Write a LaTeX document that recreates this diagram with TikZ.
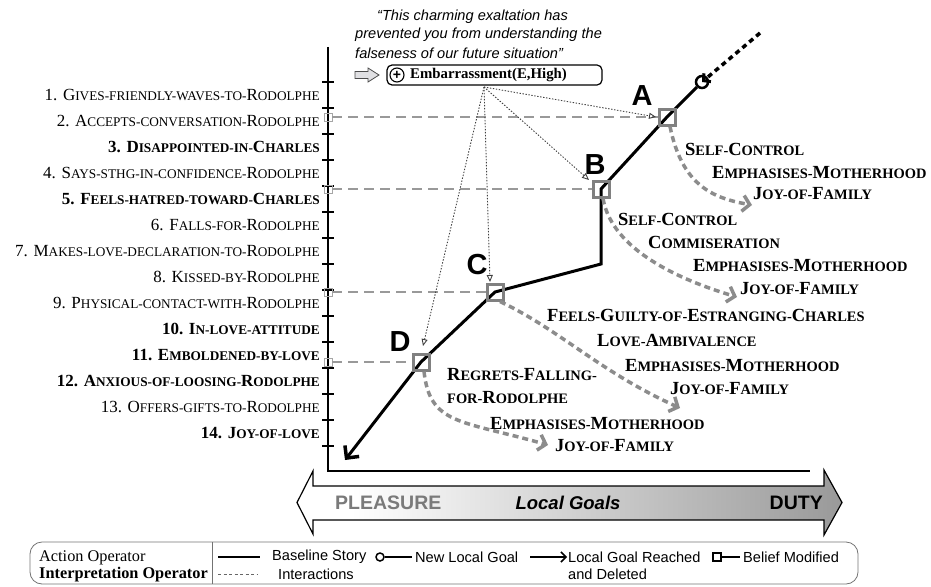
\documentclass[tikz,border=0pt]{standalone}
\usepackage{fontspec}
\setmainfont{Liberation Serif}
\newfontfamily\arial{Liberation Sans}
\usetikzlibrary{arrows.meta,shapes.geometric}
\makeatletter
\newcommand\smc[1]{{\fontsize{\the\dimexpr0.78\dimexpr\f@size pt\relax\relax}{10pt}\selectfont\MakeUppercase{#1}}}
\makeatother
\newcommand\fsAx{\fontsize{17}{20}\selectfont}
\newcommand\fsIn{\fontsize{18.5}{22}\selectfont}
\pgfdeclarehorizontalshading{goalshade}{100bp}{color(0bp)=(white); color(30bp)=(white); color(100bp)=(black!62)}
\begin{document}
\begin{tikzpicture}[x=1pt,y=-1pt,
  axl/.style={anchor=base east,inner sep=0pt,font=\fsAx},
  il/.style={anchor=base west,inner sep=0pt,font=\fsIn\bfseries},
  bigl/.style={inner sep=0pt,font=\arial\bfseries\fontsize{29}{32}\selectfont},
  sq/.style={draw=black!50,line width=3pt,minimum size=16pt,inner sep=0pt},
  ssq/.style={draw=black!35,line width=0.7pt,minimum size=8pt,inner sep=0pt},
  story/.style={line width=3pt,black},
  inter/.style={draw=black!45,line width=3.5pt,dash pattern=on 6pt off 4pt,-{Straight Barb[length=7pt,width=16pt,line width=3.5pt]}},
  dotar/.style={draw=black!75,line width=0.9pt,dash pattern=on 1.4pt off 1.6pt,-{Triangle[open,length=7pt,width=6pt]}},
  hdash/.style={draw=black!40,line width=1.3pt,dash pattern=on 10pt off 6pt},
  legt/.style={inner sep=0pt,anchor=west,font=\arial\fontsize{14.6}{17}\selectfont},
  tick/.style={line width=2pt}]
\useasboundingbox (0,0) rectangle (931,586);

% axes
\draw[line width=2.5pt] (328,47) -- (328,471) -- (810,471);
\foreach \i in {0,...,14} \draw[tick] (322,82+26*\i) -- (334,82+26*\i);

% axis labels
\node[axl] (l1) at (320,100.6) {1. G\smc{ives-friendly-waves-to-}R\smc{odolphe}};
\node[axl] (l2) at (320,126.6) {2. A\smc{ccepts-conversation-}R\smc{odolphe}};
\node[axl,font=\fsAx\bfseries] (l3) at (320,152.6) {3. D\smc{isappointed-in-}C\smc{harles}};
\node[axl] (l4) at (320,178.6) {4. S\smc{ays-sthg-in-confidence-}R\smc{odolphe}};
\node[axl,font=\fsAx\bfseries] (l5) at (320,204.6) {5. F\smc{eels-hatred-toward-}C\smc{harles}};
\node[axl] (l6) at (320,230.6) {6. F\smc{alls-for-}R\smc{odolphe}};
\node[axl] (l7) at (320,256.6) {7. M\smc{akes-love-declaration-to-}R\smc{odolphe}};
\node[axl] (l8) at (320,282.6) {8. K\smc{issed-by-}R\smc{odolphe}};
\node[axl] (l9) at (320,308.6) {9. P\smc{hysical-contact-with-}R\smc{odolphe}};
\node[axl,font=\fsAx\bfseries] (l10) at (320,334.6) {10. I\smc{n-love-attitude}};
\node[axl,font=\fsAx\bfseries] (l11) at (320,360.6) {11. E\smc{mboldened-by-love}};
\node[axl,font=\fsAx\bfseries] (l12) at (320,386.6) {12. A\smc{nxious-of-loosing-}R\smc{odolphe}};
\node[axl] (l13) at (320,412.6) {13. O\smc{ffers-gifts-to-}R\smc{odolphe}};
\node[axl,font=\fsAx\bfseries] (l14) at (320,438.6) {14. J\smc{oy-of-love}};

% quote and emotion box
\node[anchor=west,inner sep=0pt,font=\arial\itshape\fontsize{14.6}{17}\selectfont] (q1) at (377,17) {“This charming exaltation has};
\node[anchor=west,inner sep=0pt,font=\arial\itshape\fontsize{14.6}{17}\selectfont] (q2) at (355,35) {prevented you from understanding the};
\node[anchor=west,inner sep=0pt,font=\arial\itshape\fontsize{14.6}{17}\selectfont] (q3) at (355,53) {falseness of our future situation”};
\node[draw,line width=1.2pt,rounded corners=5pt,minimum width=215pt,minimum height=20pt,inner sep=0pt] (emb) at (494.5,75) {};
\node[circle,draw,line width=1.1pt,minimum size=14pt,inner sep=0pt,font=\arial\bfseries\fontsize{14}{14}\selectfont] (plus) at (397,75) {+};
\node[anchor=west,inner sep=0pt,font=\bfseries\fontsize{14.8}{17}\selectfont] (embt) at (410,75) {Embarrassment(E,High)};
\filldraw[fill=blue!8!black!12,draw=black!70,line width=0.8pt] (355,71.5) -- (368,71.5) -- (368,68) -- (379,75) -- (368,82) -- (368,78.5) -- (355,78.5) -- cycle;

% story line
\coordinate (start) at (760,33);
\node[circle,draw,line width=2.5pt,minimum size=12pt,inner sep=0pt] (goal) at (702,82) {};
\node[sq] (A) at (667,117) {};
\node[sq] (B) at (601,189) {};
\coordinate (bv) at (601,264);
\node[sq] (C) at (495,292) {};
\node[sq] (D) at (421,362) {};
\coordinate (end) at (345,460);
\draw[line width=3.5pt,dash pattern=on 5pt off 4pt,-{Straight Barb[length=5pt,width=11pt,line width=3pt]}] (start) -- (goal.center);
\draw[story,-{Straight Barb[length=9pt,width=18pt,line width=3.5pt]}] (goal) -- (A.center) -- (B.center) -- (bv) -- (C.center) -- (D.center) -- (end);
\node[sq] at (A) {};
\node[sq] at (B) {};
\node[sq] at (C) {};
\node[sq] at (D) {};

\node[bigl] (lA) at (642,96) {A};
\node[bigl] (lB) at (595,165) {B};
\node[bigl] (lC) at (477,265) {C};
\node[bigl] (lD) at (400,342) {D};

% belief links
\node[ssq] (sA) at (328,117) {};
\node[ssq] (sB) at (328,189) {};
\node[ssq] (sC) at (328,292) {};
\node[ssq] (sD) at (328,362) {};
\draw[hdash] (sA) -- (A);
\draw[hdash] (sB) -- (B);
\draw[hdash] (sC) -- (C);
\draw[hdash] (sD) -- (D);

% dotted interpretation arrows
\coordinate (eo) at (484,87);
\coordinate (pA) at (656,117);
\coordinate (pB) at (589,180);
\coordinate (pC) at (490,282);
\coordinate (pD) at (423,346);
\draw[dotar] (eo) -- (pA);
\draw[dotar] (eo) -- (pB);
\draw[dotar] (eo) -- (pC);
\draw[dotar] (eo) -- (pD);

% interactions
\coordinate (tA) at (752,205);
\coordinate (tB) at (737,297);
\coordinate (tC) at (680,408);
\coordinate (tD) at (548,445);
\draw[inter] ([xshift=3pt]A.south) .. controls (682,185) and (712,198) .. (tA);
\draw[inter] ([xshift=2pt]B.south) .. controls (612,250) and (680,280) .. (tB);
\draw[inter] ([xshift=5pt]C.south) .. controls (560,330) and (600,372) .. (tC);
\draw[inter] ([xshift=3pt]D.south) .. controls (430,425) and (460,420) .. (tD);

\node[il] (a1) at (685,155) {S\smc{elf-}C\smc{ontrol}};
\node[il] (a2) at (712,178) {E\smc{mphasises-}M\smc{otherhood}};
\node[il] (a3) at (753,199) {J\smc{oy-of-}F\smc{amily}};
\node[il] (b1) at (618,225) {S\smc{elf-}C\smc{ontrol}};
\node[il] (b2) at (648,248) {C\smc{ommiseration}};
\node[il] (b3) at (693,271) {E\smc{mphasises-}M\smc{otherhood}};
\node[il] (b4) at (740,294) {J\smc{oy-of-}F\smc{amily}};
\node[il] (c1) at (547,321) {F\smc{eels-}G\smc{uilty-of-}E\smc{stranging-}C\smc{harles}};
\node[il] (c2) at (597,346) {L\smc{ove-}A\smc{mbivalence}};
\node[il] (c3) at (625,371) {E\smc{mphasises-}M\smc{otherhood}};
\node[il] (c4) at (670,394) {J\smc{oy-of-}F\smc{amily}};
\node[il] (d1) at (447,380) {R\smc{egrets-}F\smc{alling-}};
\node[il] (d2) at (447,403) {\smc{for-}R\smc{odolphe}};
\node[il] (d3) at (490,429) {E\smc{mphasises-}M\smc{otherhood}};
\node[il] (d4) at (555,451) {J\smc{oy-of-}F\smc{amily}};

% local goals arrow
\shadedraw[shading=goalshade,line width=1.2pt] (297,502.5) -- (313,471) -- (313,486) -- (824,486) -- (824,470) -- (842,502.5) -- (824,535) -- (824,520) -- (313,520) -- (313,534) -- cycle;
\node[anchor=west,inner sep=0pt,text=black!52,font=\arial\bfseries\fontsize{19.5}{22}\selectfont] (pl) at (335,502.5) {PLEASURE};
\node[inner sep=0pt,font=\arial\bfseries\itshape\fontsize{18.5}{22}\selectfont] (lg) at (568,502.5) {Local Goals};
\node[anchor=east,inner sep=0pt,font=\arial\bfseries\fontsize{19.5}{22}\selectfont] (du) at (823,502.5) {DUTY};

% legend
\node[draw=black!55,line width=0.8pt,rounded corners=12pt,minimum width=828pt,minimum height=42pt,inner sep=0pt] (leg) at (444,563) {};
\coordinate (dv1) at (212,542);
\coordinate (dv2) at (212,584);
\draw[black!55,line width=0.8pt] (dv1) -- (dv2);
\node[anchor=west,inner sep=0pt,font=\fontsize{16.3}{18}\selectfont] (ao) at (39,558) {Action Operator};
\node[anchor=west,inner sep=0pt,font=\bfseries\fontsize{16.3}{18}\selectfont] (io) at (39,574.5) {Interpretation Operator};
\coordinate (s1) at (218,557);
\coordinate (s2) at (260,557);
\draw[line width=1.6pt] (s1) -- (s2);
\coordinate (i1) at (218,574);
\coordinate (i2) at (258,574);
\draw[black!60,line width=1pt,dash pattern=on 3pt off 2.5pt] (i1) -- (i2);
\node[legt] (bst) at (272,557) {Baseline Story};
\node[legt] (int) at (278,574) {Interactions};
\node[circle,draw,line width=1.5pt,minimum size=8pt,inner sep=0pt] (lc) at (380,557) {};
\coordinate (lc2) at (412,557);
\draw[line width=1.5pt] (lc) -- (lc2);
\node[legt] (nlg) at (415,557) {New Local Goal};
\coordinate (la1) at (530,557);
\coordinate (la2) at (567,557);
\draw[line width=1.5pt,-{Straight Barb[length=5pt,width=10pt,line width=1.5pt]}] (la1) -- (la2);
\node[legt] (lgr) at (568,557) {Local Goal Reached};
\node[legt] (lgd) at (568,574) {and Deleted};
\node[draw,line width=1.3pt,minimum size=8pt,inner sep=0pt] (ls) at (717,557) {};
\coordinate (ls2) at (740,557);
\draw[line width=1.5pt] (ls) -- (ls2);
\node[legt] (bm) at (743,557) {Belief Modified};
\end{tikzpicture}
\end{document}
